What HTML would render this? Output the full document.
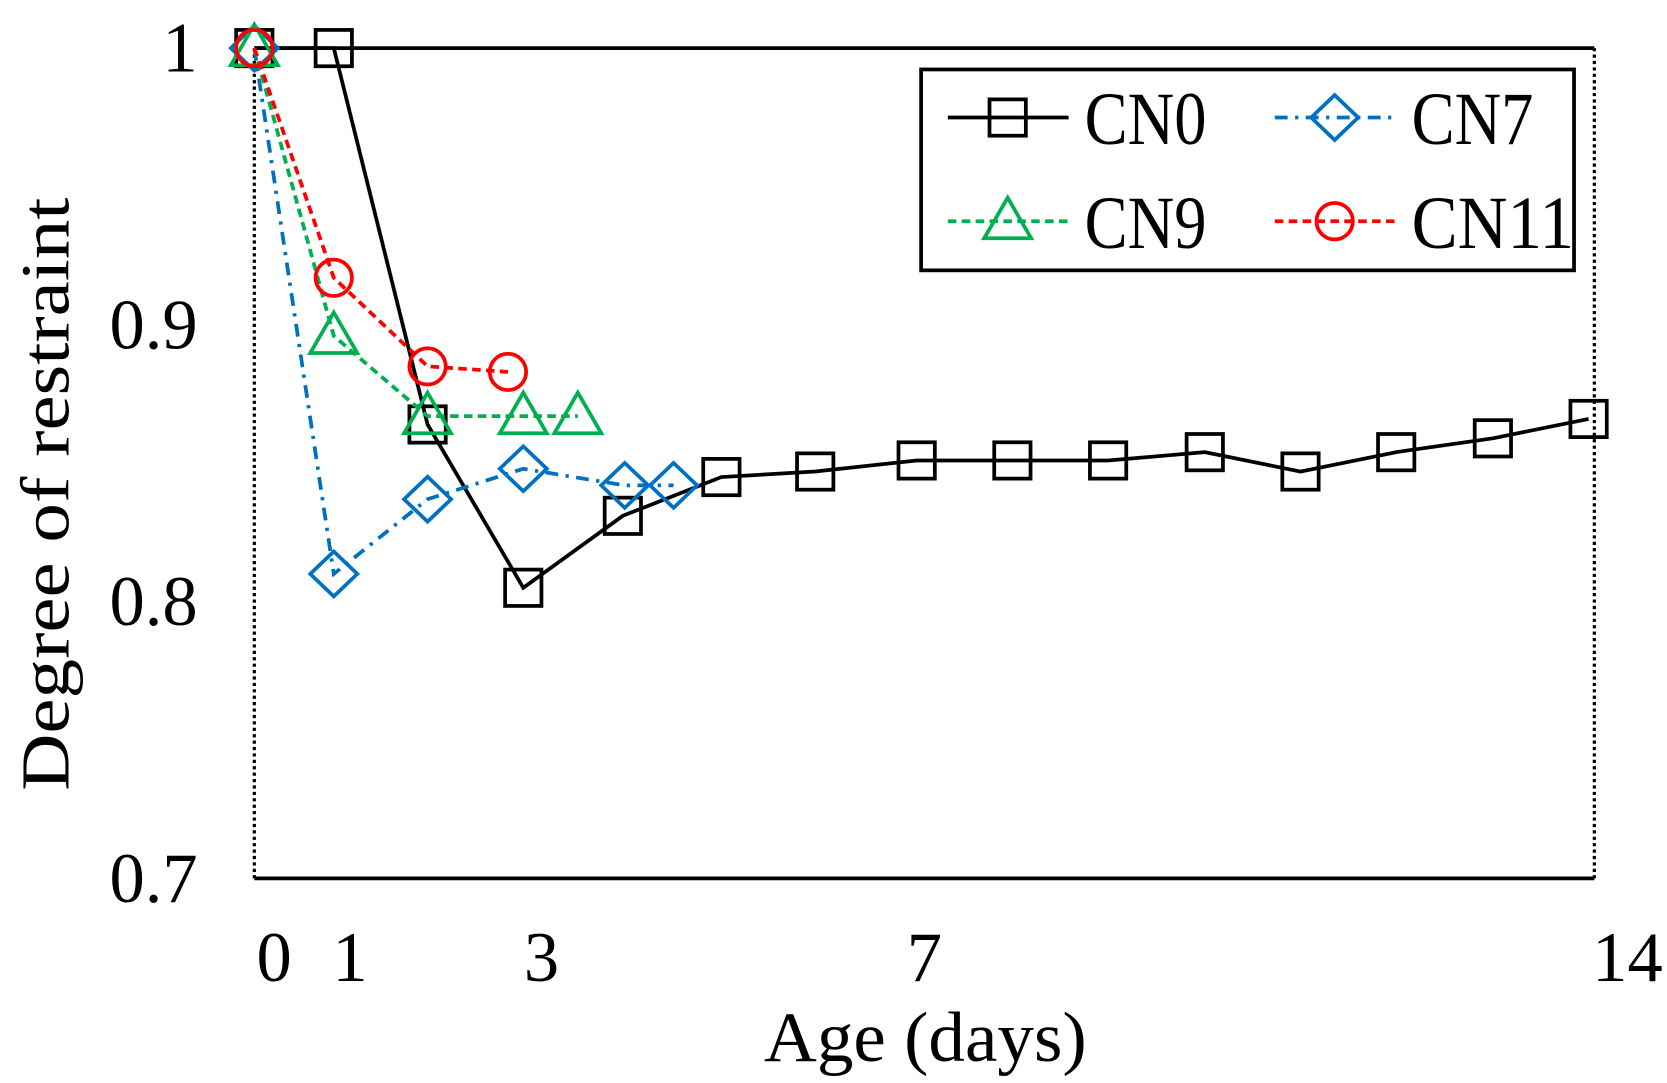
<!DOCTYPE html>
<html><head><meta charset="utf-8"><style>
html,body{margin:0;padding:0;background:#fff;}
svg{display:block;}
text{font-family:"Liberation Serif",serif;fill:#000;}
</style></head><body>
<svg id="chart" width="1667" height="1083" viewBox="0 0 1560 1013.5" preserveAspectRatio="none">
<g id="frame">
  <line x1="238" y1="45" x2="1492" y2="45" stroke="#000" stroke-width="3.5"/>
  <line x1="238" y1="822" x2="1492" y2="822" stroke="#000" stroke-width="3.5"/>
  <line x1="238" y1="45" x2="238" y2="822" stroke="#000" stroke-width="3" stroke-dasharray="3,3"/>
  <line x1="1492" y1="45" x2="1492" y2="822" stroke="#000" stroke-width="3" stroke-dasharray="3,3"/>
</g>
<g id="ticks"></g>
<g id="series"></g>
<text x="0" y="0" font-size="64" textLength="555" lengthAdjust="spacingAndGlyphs" transform="translate(64,740) rotate(-90)">Degree of restraint</text>
<text x="715" y="993" font-size="66" textLength="302" lengthAdjust="spacingAndGlyphs">Age (days)</text>
<g id="legend">
  <rect x="862" y="65" width="611" height="188" fill="#fff" stroke="#000" stroke-width="3.5"/>
</g>
</svg>
<script>
const xDomain = [0, 14];
const yDomain = [0.7, 1.0];
const yTicks = [0.7, 0.8, 0.9, 1];
const yTickLabels = ["0.7", "0.8", "0.9", "1"];
const xTicks = [0, 1, 3, 7, 14];
const xTickLabels = ["0", "1", "3", "7", "14"];
const cn0X = [0, 0.83, 1.81, 2.81, 3.85, 4.88, 5.86, 6.92, 7.92, 8.92, 9.93, 10.93, 11.93, 12.94, 13.94];
const cn0Y = [1, 1, 0.864, 0.805, 0.831, 0.845, 0.847, 0.851, 0.851, 0.851, 0.854, 0.847, 0.854, 0.859, 0.866];
const cn7X = [0, 0.83, 1.81, 2.81, 3.87, 4.38];
const cn7Y = [1, 0.810, 0.837, 0.848, 0.842, 0.842];
const cn9X = [0, 0.83, 1.81, 2.81, 3.38];
const cn9Y = [1, 0.896, 0.867, 0.867, 0.867];
const cn11X = [0, 0.83, 1.81, 2.65];
const cn11Y = [1, 0.917, 0.885, 0.883];

const NS = "http://www.w3.org/2000/svg";
const X0 = 238, X1 = 1492, Y0 = 822, Y1 = 45;
function sx(v){ return X0 + (v - xDomain[0]) / (xDomain[1] - xDomain[0]) * (X1 - X0); }
function sy(v){ return Y0 - (v - yDomain[0]) / (yDomain[1] - yDomain[0]) * (Y0 - Y1); }
function mk(tag, attrs, parent){
  const e = document.createElementNS(NS, tag);
  for (const k in attrs) e.setAttribute(k, attrs[k]);
  parent.appendChild(e);
  return e;
}
const ticksG = document.getElementById('ticks');
yTicks.forEach((v, i) => {
  const t = mk('text', {x: 185, y: sy(v) + 22, 'font-size': 66, 'text-anchor': 'end'}, ticksG);
  
  
  t.textContent = yTickLabels[i];
});
xTicks.forEach((v, i) => {
  let x = sx(v), anchor = 'middle';
  if (v === xDomain[0]) { x = sx(v) + 2; anchor = 'start'; }
  if (v === xDomain[1]) { x = sx(v) - 2; anchor = 'start'; }
  const t = mk('text', {x: x, y: 918, 'font-size': 66, 'text-anchor': anchor}, ticksG);
  
  
  t.textContent = xTickLabels[i];
});

function marker(g, type, x, y, color){
  let e;
  if (type === 'square') e = mk('rect', {x: x-17, y: y-17, width: 34, height: 34, fill: 'none', stroke: color, 'stroke-width': 3.5}, g);
  else if (type === 'diamond') e = mk('polygon', {points: `${x},${y-21} ${x+22},${y} ${x},${y+21} ${x-22},${y}`, fill: 'none', stroke: color, 'stroke-width': 3.5}, g);
  else if (type === 'triangle') e = mk('polygon', {points: `${x},${y-22} ${x+22},${y+16} ${x-22},${y+16}`, fill: 'none', stroke: color, 'stroke-width': 3.5}, g);
  else e = mk('circle', {cx: x, cy: y, r: 17, fill: 'none', stroke: color, 'stroke-width': 3.5}, g);
  return e;
}
const series = [
  {name: 'cn0', label: 'CN0', xs: cn0X, ys: cn0Y, color: '#000', dash: 'none', m: 'square', lx: 887, ly: 110},
  {name: 'cn7', label: 'CN7', xs: cn7X, ys: cn7Y, color: '#0070c0', dash: '12,7,3,7', m: 'diamond', lx: 1193, ly: 110},
  {name: 'cn9', label: 'CN9', xs: cn9X, ys: cn9Y, color: '#00b050', dash: '8,5', m: 'triangle', lx: 887, ly: 207},
  {name: 'cn11', label: 'CN11', xs: cn11X, ys: cn11Y, color: '#ff0000', dash: '8,5', m: 'circle', lx: 1193, ly: 207}
];
const sG = document.getElementById('series');
series.forEach(s => {
  const g = mk('g', {}, sG);
  
  
  const pts = s.xs.map((x, j) => sx(x) + ',' + sy(s.ys[j])).join(' ');
  const pl = mk('polyline', {points: pts, fill: 'none', stroke: s.color, 'stroke-width': 3.5, 'stroke-dasharray': s.dash}, g);
  
  
  s.xs.forEach((x, j) => {
    const m = marker(g, s.m, sx(x), sy(s.ys[j]), s.color);
    
    
  });
});
const lg = document.getElementById('legend');
series.forEach(s => {
  const g = mk('g', {}, lg);
  
  
  mk('line', {x1: s.lx, y1: s.ly, x2: s.lx + 113, y2: s.ly, stroke: s.color, 'stroke-width': 3.5, 'stroke-dasharray': s.dash}, g);
  marker(g, s.m, s.lx + 56, s.ly, s.color);
  const t = mk('text', {x: s.lx + 128, y: s.ly + 25, 'font-size': 70, textLength: s.label.length * 38, lengthAdjust: 'spacingAndGlyphs'}, g);
  
  
  t.textContent = s.label;
});
</script>
</body></html>
